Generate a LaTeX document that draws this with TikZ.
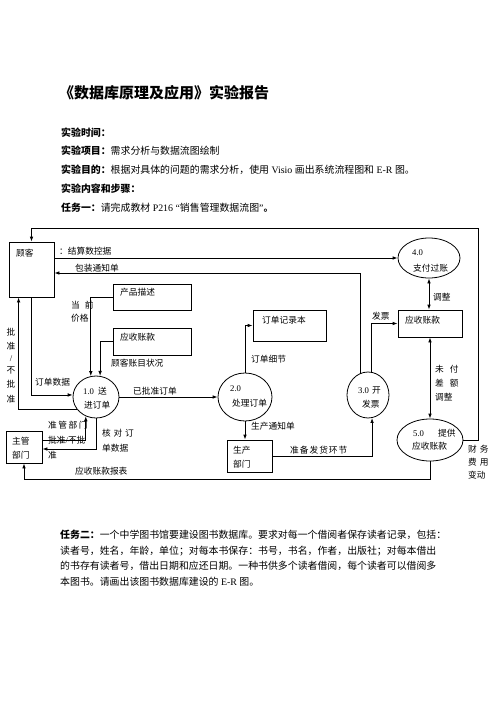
\documentclass[tikz,border=0pt]{standalone}
\usepackage{fontspec}
\setmainfont{Liberation Serif}
\newfontfamily\cjk{Noto Sans CJK SC}
\newfontfamily\lat{Liberation Serif}
\usetikzlibrary{arrows.meta,shapes.geometric,calc}
\tikzset{
  box/.style={draw, line width=0.8pt, inner sep=0pt},
  proc/.style={draw, ellipse, line width=0.8pt, inner sep=0pt},
  flow/.style={line width=0.8pt, -{Latex[length=5pt,width=3.6pt]}},
  flowtwo/.style={line width=0.8pt, {Latex[length=5pt,width=3.6pt]}-{Latex[length=5pt,width=3.6pt]}},
  lbl/.style={anchor=west, inner sep=0pt, font=\fontsize{8.7}{10}\cjk},
  hdr/.style={anchor=west, inner sep=0pt, font=\fontsize{9.9}{12}\cjk},
}
\begin{document}
\begin{tikzpicture}[x=1pt,y=-1pt]
\useasboundingbox[fill=white] (0,0) rectangle (496,702);

% ---------- header ----------
\node[anchor=west, inner sep=0pt, font=\fontsize{15}{18}\bfseries\cjk] (title) at (59,93) {《数据库原理及应用》实验报告};
\node[hdr] (h1) at (61,133) {\bfseries 实验时间：};
\node[hdr] (h2) at (61,151) {{\bfseries 实验项目：}需求分析与数据流图绘制};
\node[hdr] (h3) at (61,170) {{\bfseries 实验目的：}根据对具体的问题的需求分析，使用{\lat{} Visio }画出系统流程图和{\lat{} E-R }图。};
\node[hdr] (h4) at (61,189) {\bfseries 实验内容和步骤：};
\node[hdr] (h5) at (61,208) {{\bfseries 任务一：}请完成教材{\lat{} P216 “}销售管理数据流图{\lat ”}\textbf{。}};

% ---------- shapes ----------
\node[box, minimum width=45pt, minimum height=55pt] (guke) at (31.5,269.5) {};
\node[box, minimum width=78pt, minimum height=26pt] (cpms) at (152,297) {};
\node[box, minimum width=78pt, minimum height=27pt] (ysl) at (152,341.5) {};
\node[box, minimum width=73pt, minimum height=31pt] (jl) at (289.5,325.5) {};
\node[box, minimum width=64pt, minimum height=27pt] (ysr) at (430,323.5) {};
\node[box, minimum width=36pt, minimum height=32pt] (zg) at (24,447) {};
\node[box, minimum width=45pt, minimum height=32pt] (scb) at (249.5,456) {};

\node[proc, minimum width=46pt, minimum height=42pt] (e1) at (96,397) {};
\node[proc, minimum width=54pt, minimum height=48pt] (e2) at (245,397) {};
\node[proc, minimum width=42pt, minimum height=46pt] (e3) at (368,395) {};
\node[proc, minimum width=62pt, minimum height=40pt] (e4) at (429,258) {};
\node[proc, minimum width=66pt, minimum height=42pt] (e5) at (430,440) {};

% ---------- texts in shapes ----------
\node[lbl] (tguke) at (16,253) {顾客};
\node[lbl] (tcpms) at (120,292) {产品描述};
\node[lbl] (tysl) at (120,337) {应收账款};
\node[lbl] (tjl) at (262,320) {订单记录本};
\node[lbl] (tysr) at (405,320) {应收账款};
\node[lbl] (tzg1) at (12,441) {主管};
\node[lbl] (tzg2) at (12,455) {部门};
\node[lbl] (tscb1) at (233,450) {生产};
\node[lbl] (tscb2) at (233,464) {部门};
\node[lbl] (te1a) at (83,391) {{\lat 1.0}\hspace{4pt}送};
\node[lbl] (te1b) at (84,405) {进订单};
\node[lbl] (te2a) at (230,389) {\lat 2.0};
\node[lbl] (te2b) at (232,403) {处理订单};
\node[lbl] (te3a) at (358,390) {{\lat 3.0}\hspace{3pt}开};
\node[lbl] (te3b) at (362,404) {发票};
\node[lbl] (te4a) at (412,253) {\lat 4.0};
\node[lbl] (te4b) at (413,268) {支付过账};
\node[lbl] (te5a) at (413,433) {{\lat 5.0}\hspace{14pt}提供};
\node[lbl] (te5b) at (412,446) {应收账款};

% ---------- connectors ----------
\coordinate (tr) at (478,228);
\coordinate (bot) at (0,479);
\draw[flow] (e5.east) -| (tr) -| (guke.north);
\draw[flow] (e4.west -| guke.east) -- (e4.west);
\draw[flow] (e3.108) |- ($(guke.east)+(0,3.5)$);
\draw[flow] (e3.82) |- (ysr.west);
\draw[flowtwo] (e4.south) -- (e4.south |- ysr.north);
\draw[flowtwo] (ysr.south -| e5.north) -- (e5.north);
\draw[flow] (e5.south) |- (zg.south |- bot) -- (zg.south);
\draw[flow] (cpms.west) -| (e1.104);
\draw[flow] (ysl.west) -| (e1.79);
\draw[flow] (guke.south) |- (e1.175);
\draw[flow] (e1.212) -| ($(guke.south west)+(10,0)$);
\draw[flow] (e1.east) -- (e2.west);
\draw[flow] (e2.north) |- (jl.west);
\draw[flow] (e2.south) -- (e2.south |- scb.north);
\draw[flow] (scb.east) -| (e3.280);
\draw[flow] ($(zg.east)+(0,-7)$) -| (e1.242);
\draw[flow] (e1.south) |- ($(zg.east)+(0,2)$);

% ---------- connector labels ----------
\node[lbl] (l1) at (59,251) {：结算数控据};
\node[lbl] (l2) at (75,268) {包装通知单};
\node[lbl] (l3) at (71,305) {当\hspace{5pt}前};
\node[lbl] (l4) at (71,318) {价格};
\node[lbl] (l5) at (111,363) {顾客账目状况};
\node[lbl] (l6) at (35,382) {订单数据};
\node[anchor=center, inner sep=0pt, font=\fontsize{8.7}{10}\cjk, align=center] (l7) at (11,365.5)
  {批\\[4.3pt]准\\[2pt]{\lat /}\\[2pt]不\\[4.3pt]批\\[4.3pt]准};
\node[lbl] (l8) at (133,391) {已批准订单};
\node[lbl] (l9) at (251,359) {订单细节};
\node[lbl] (l10) at (251,426) {生产通知单};
\node[lbl] (l11) at (290,450) {准\hspace{1pt}备\hspace{1pt}发\hspace{1pt}货\hspace{1pt}环\hspace{1pt}节};
\node[lbl] (l12) at (372,316) {发票};
\node[lbl] (l13) at (433,297) {调整};
\node[lbl] (l14) at (435,369) {未\hspace{6pt}付};
\node[lbl] (l15) at (435,383) {差\hspace{6pt}额};
\node[lbl] (l16) at (435,397) {调整};
\node[lbl] (l17) at (468,449) {财\hspace{3pt}务};
\node[lbl] (l18) at (468,462) {费\hspace{3pt}用};
\node[lbl] (l19) at (468,475) {变动};
\node[lbl] (l20) at (75,471) {应收账款报表};
\node[lbl] (l21) at (48,425) {准\hspace{1.5pt}管\hspace{1.5pt}部\hspace{1.5pt}门};
\node[lbl] (l22) at (48,440) {批准{\lat /}不批};
\node[lbl] (l23) at (48,455) {准};
\node[lbl] (l24) at (102,433) {核\hspace{2.8pt}对\hspace{2.8pt}订};
\node[lbl] (l25) at (102,448) {单数据};

% ---------- task two ----------
\node[hdr] (t1) at (60,535) {{\bfseries 任务二：}一个中学图书馆要建设图书数据库。要求对每一个借阅者保存读者记录，包括：};
\node[hdr] (t2) at (60,551) {读者号，姓名，年龄，单位；对每本书保存：书号，书名，作者，出版社；对每本借出};
\node[hdr] (t3) at (60,566) {的书存有读者号，借出日期和应还日期。一种书供多个读者借阅，每个读者可以借阅多};
\node[hdr] (t4) at (60,582) {本图书。请画出该图书数据库建设的{\lat{} E-R }图。};
\end{tikzpicture}
\end{document}
